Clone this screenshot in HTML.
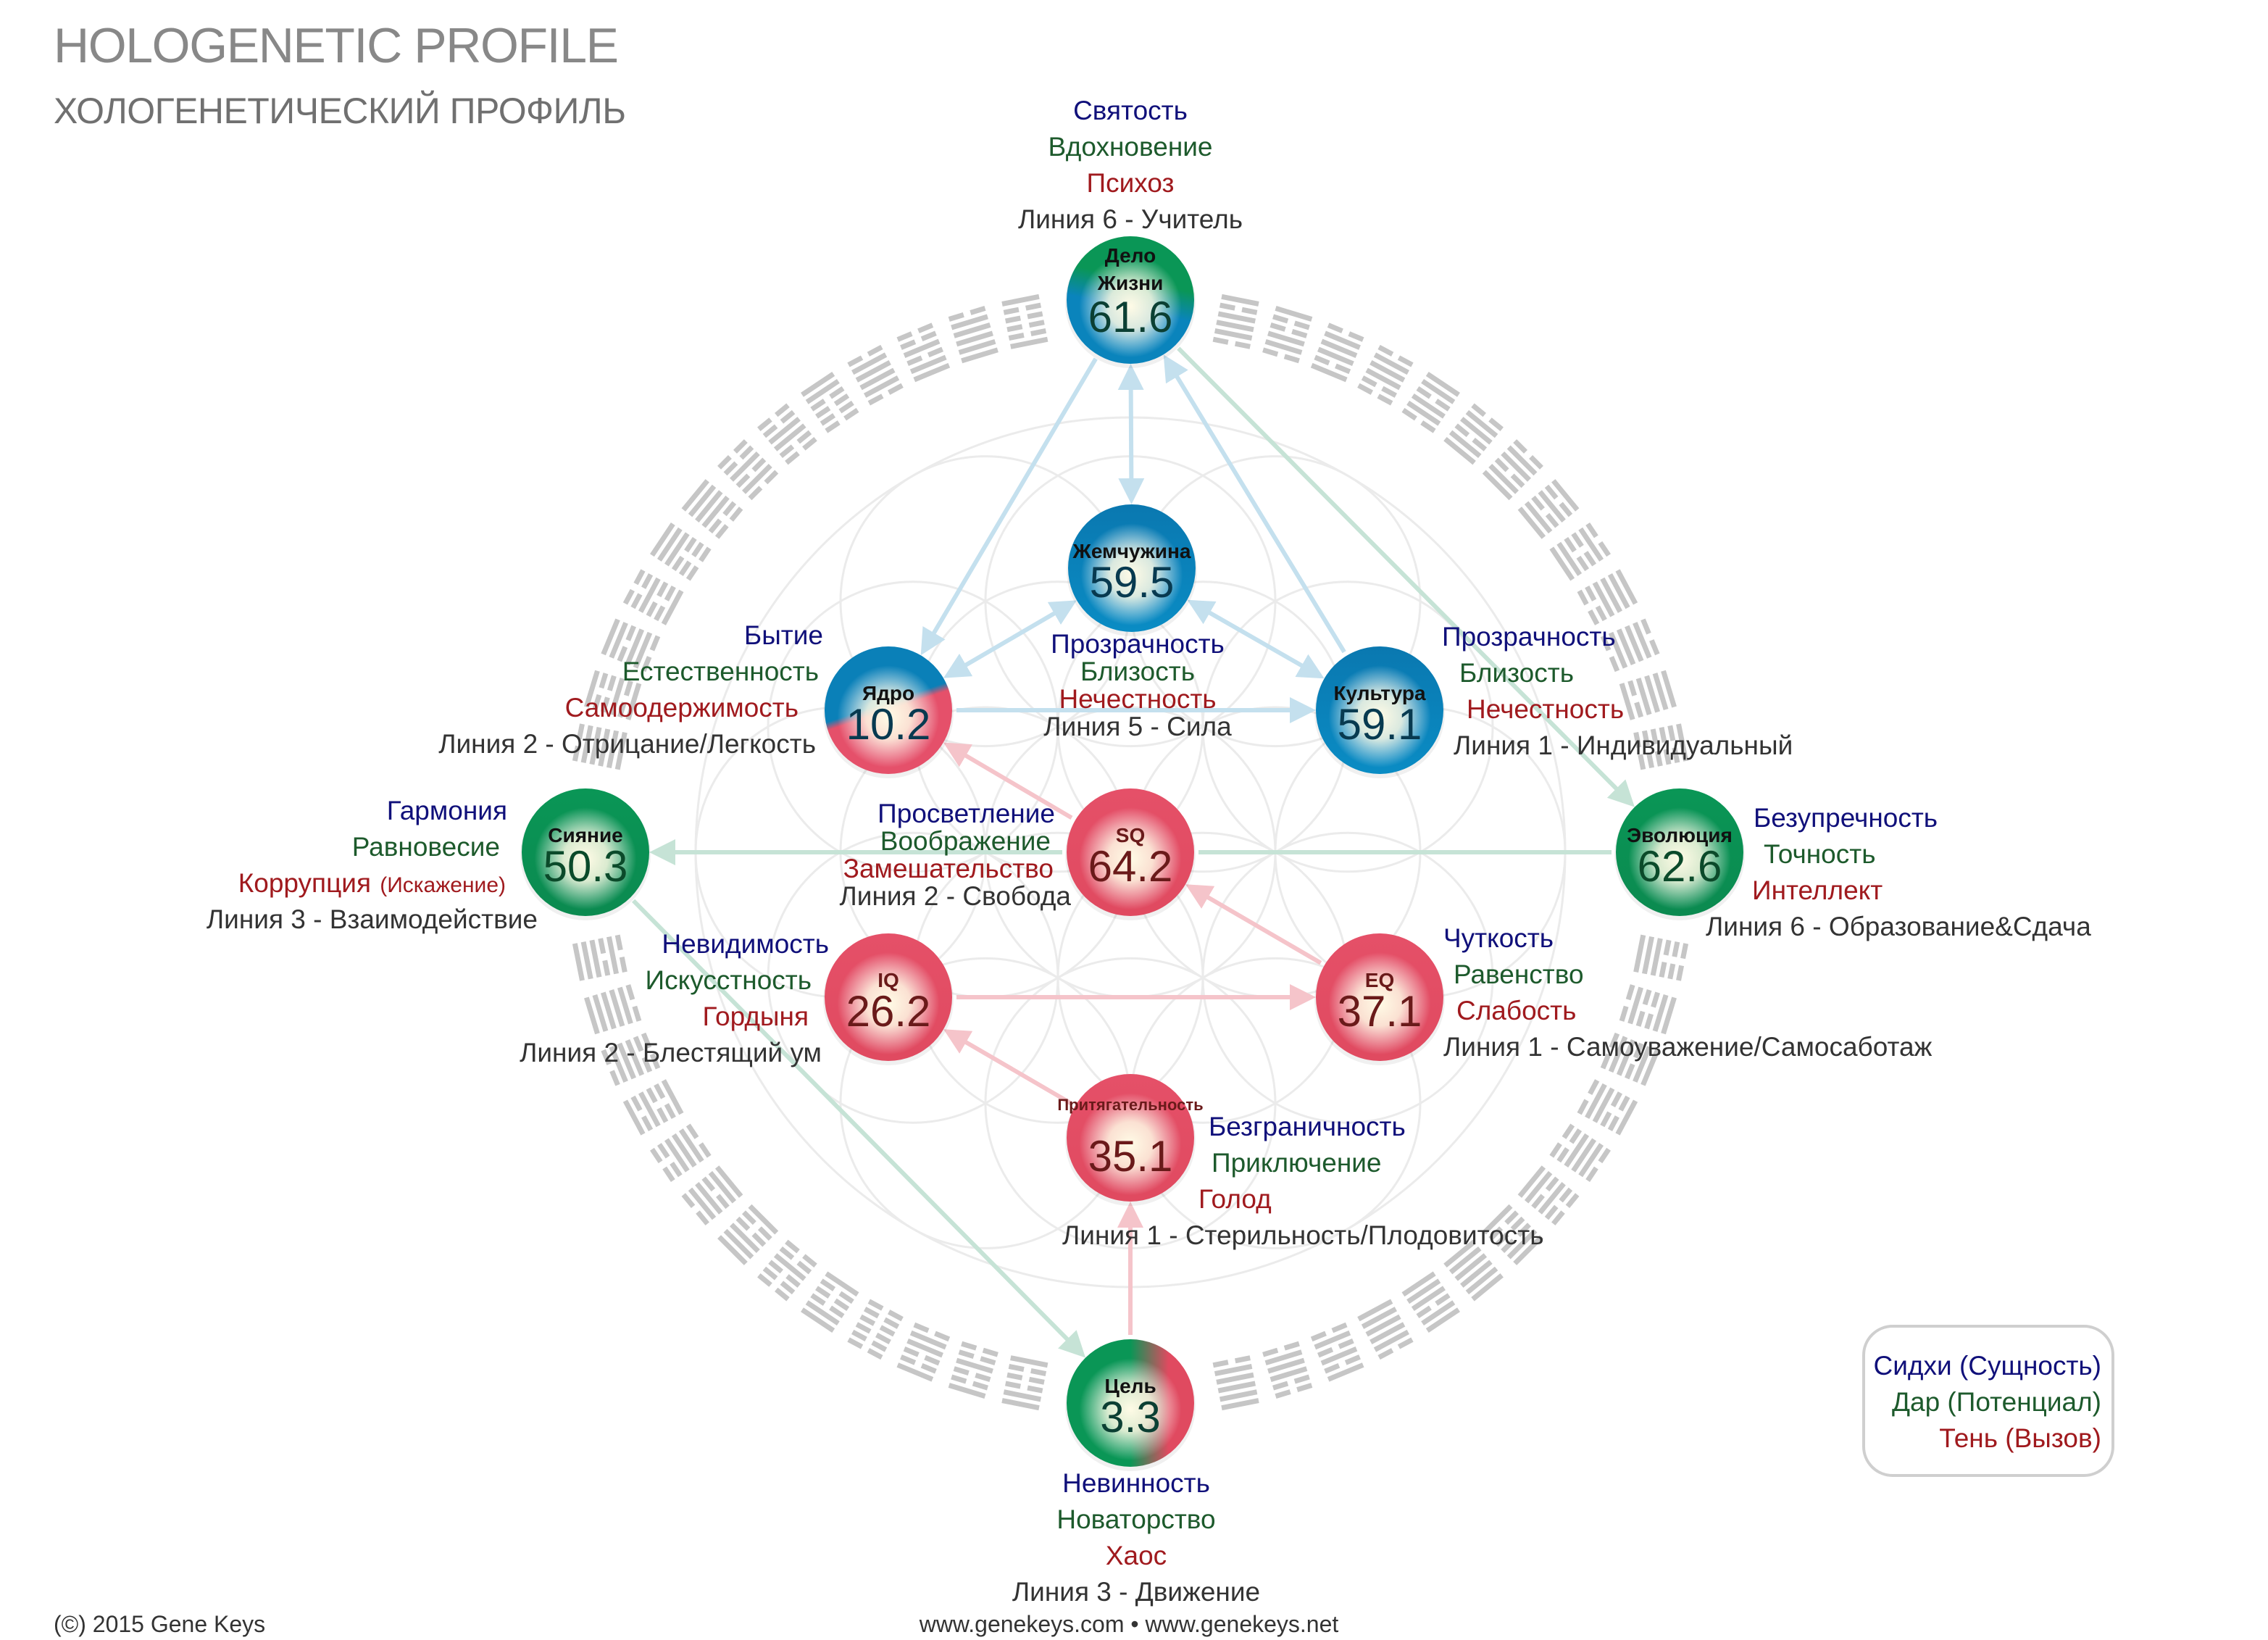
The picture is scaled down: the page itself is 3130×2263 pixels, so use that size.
<!DOCTYPE html>
<html><head><meta charset="utf-8">
<style>
html,body{margin:0;padding:0;background:#fff}
svg{display:block}
text{font-family:"Liberation Sans Narrow","Liberation Sans","DejaVu Sans Condensed",sans-serif}
</style></head><body>
<svg id="s" width="3130" height="2263" viewBox="0 0 3130 2263" xmlns="http://www.w3.org/2000/svg">
<defs>
<radialGradient id="hl" cx="0.5" cy="0.55" r="0.5">
<stop offset="0" stop-color="#fffbe6" stop-opacity="1"/>
<stop offset="0.35" stop-color="#fffbe6" stop-opacity="0.85"/>
<stop offset="0.8" stop-color="#fff" stop-opacity="0"/>
</radialGradient>
<linearGradient id="gB" x1="0" y1="0" x2="0" y2="1"><stop offset="0" stop-color="#0a78b0"/><stop offset="1" stop-color="#0a8cc4"/></linearGradient>
<linearGradient id="gG" x1="0" y1="0" x2="0" y2="1"><stop offset="0" stop-color="#0a9656"/><stop offset="1" stop-color="#0b8a50"/></linearGradient>
<linearGradient id="gR" x1="0" y1="0" x2="0" y2="1"><stop offset="0" stop-color="#e55068"/><stop offset="1" stop-color="#e04a60"/></linearGradient>
<linearGradient id="gBR" x1="0.3" y1="0.2" x2="0.5" y2="0.8"><stop offset="0.45" stop-color="#0a80b8"/><stop offset="0.55" stop-color="#e5506a"/></linearGradient>
<linearGradient id="gGB" x1="0.5" y1="0" x2="0.3" y2="0.9"><stop offset="0.35" stop-color="#0a9656"/><stop offset="0.6" stop-color="#0a84bc"/></linearGradient>
<linearGradient id="gGR" x1="0" y1="0" x2="1" y2="0"><stop offset="0.5" stop-color="#0a9656"/><stop offset="0.8" stop-color="#e04a60"/></linearGradient>
<marker id="aB" markerWidth="6" markerHeight="6" refX="5" refY="3" orient="auto" markerUnits="strokeWidth"><path d="M0,0 L6,3 L0,6 z" fill="#c4e0ee"/></marker>
<marker id="aBs" markerWidth="6" markerHeight="6" refX="1" refY="3" orient="auto" markerUnits="strokeWidth"><path d="M6,0 L0,3 L6,6 z" fill="#c4e0ee"/></marker>
<marker id="aG" markerWidth="6" markerHeight="6" refX="5" refY="3" orient="auto" markerUnits="strokeWidth"><path d="M0,0 L6,3 L0,6 z" fill="#c6e3d6"/></marker>
<marker id="aR" markerWidth="6" markerHeight="6" refX="5" refY="3" orient="auto" markerUnits="strokeWidth"><path d="M0,0 L6,3 L0,6 z" fill="#f5c4ca"/></marker>
</defs>
<g id="flower" fill="none" stroke="#ebebeb" stroke-width="3"></g>
<g id="hex" fill="#c6c6c6"></g>
<g id="lines" fill="none" stroke-width="6"></g>
<g id="nodes"></g>
<g id="labels" font-size="37"></g>
<text x="74" y="86" font-size="68" fill="#888" style="font-family:'Liberation Sans',sans-serif" textLength="780">HOLOGENETIC PROFILE</text>
<text x="74" y="170" font-size="50" fill="#707070" style="font-family:'Liberation Sans',sans-serif" textLength="790">ХОЛОГЕНЕТИЧЕСКИЙ ПРОФИЛЬ</text>
<text x="74" y="2252" font-size="32" fill="#333" style="font-family:'Liberation Sans',sans-serif">(©) 2015 Gene Keys</text>
<text x="1558" y="2252" font-size="32" fill="#333" text-anchor="middle" style="font-family:'Liberation Sans',sans-serif">www.genekeys.com • www.genekeys.net</text>
<rect x="2572" y="1830" width="344" height="206" rx="40" fill="#fff" stroke="#cfcfcf" stroke-width="4"/>
<g font-size="37" text-anchor="end">
<text x="2900" y="1897" fill="#10107a">Сидхи (Сущность)</text>
<text x="2900" y="1947" fill="#1d5a2c">Дар (Потенциал)</text>
<text x="2900" y="1997" fill="#a01a1e">Тень (Вызов)</text>
</g>
</svg>
<script>
const NS="http://www.w3.org/2000/svg";
function el(t,a,p){const e=document.createElementNS(NS,t);for(const k in a)e.setAttribute(k,a[k]);document.getElementById(p).appendChild(e);return e;}
const CX=1560,CY=1176;
const R=200;
for(let i=-4;i<=4;i++)for(let j=-4;j<=4;j++){
 const x=CX+R*(i+j/2), y=CY+R*j*Math.sqrt(3)/2;
 const d=Math.hypot(x-CX,y-CY);
 if(d<=2*R+1) el('circle',{cx:x,cy:y,r:R},'flower');
}
el('circle',{cx:CX,cy:CY,r:3*R},'flower');
let seed=7;function rnd(){seed=(seed*9301+49297)%233280;return seed/233280;}
const N=64;
for(let k=0;k<N;k++){
 const ang=k/N*360;
 const skip=[0,90,180,270];
 let bad=false;for(const s of skip){let d=Math.abs(((ang-s+540)%360)-180);if(d<8)bad=true;}
 if(bad) continue;
 const g=el('g',{transform:`translate(${CX},${CY}) rotate(${ang}) translate(0,-746)`},'hex');
 for(let l=0;l<6;l++){
  const y=-34+l*12;
  const r1=document.createElementNS(NS,'rect');
  if(rnd()<0.5){r1.setAttribute('x',-26);r1.setAttribute('y',y);r1.setAttribute('width',52);r1.setAttribute('height',7);g.appendChild(r1);}
  else{r1.setAttribute('x',-26);r1.setAttribute('y',y);r1.setAttribute('width',21);r1.setAttribute('height',7);g.appendChild(r1);
   const r2=document.createElementNS(NS,'rect');r2.setAttribute('x',5);r2.setAttribute('y',y);r2.setAttribute('width',21);r2.setAttribute('height',7);g.appendChild(r2);}
 }
}
const nodes={
 delo:[1560,414,'gGB','Дело|Жизни','61.6','#0b3f33'],
 pearl:[1562,784,'gB','Жемчужина','59.5','#083a50'],
 core:[1226,980,'gBR','Ядро','10.2','#083a50'],
 cult:[1904,980,'gB','Культура','59.1','#083a50'],
 rad:[808,1176,'gG','Сияние','50.3','#0b4a2a'],
 sq:[1560,1176,'gR','SQ','64.2','#6a1a1a'],
 evo:[2318,1176,'gG','Эволюция','62.6','#0b4a2a'],
 iq:[1226,1376,'gR','IQ','26.2','#6a1a1a'],
 eq:[1904,1376,'gR','EQ','37.1','#6a1a1a'],
 att:[1560,1570,'gR','Притягательность','35.1','#6a1a1a'],
 goal:[1560,1936,'gGR','Цель','3.3','#0b3f33']
};
const RN=88;
function line(a,b,col,mk,ms){
 const A=nodes[a],B=nodes[b];const dx=B[0]-A[0],dy=B[1]-A[1],d=Math.hypot(dx,dy);
 const ux=dx/d,uy=dy/d;
 const at={x1:A[0]+ux*(RN+6),y1:A[1]+uy*(RN+6),x2:B[0]-ux*(RN+6),y2:B[1]-uy*(RN+6),stroke:col};
 if(mk)at['marker-end']=`url(#${mk})`;if(ms)at['marker-start']=`url(#${ms})`;
 el('line',at,'lines');
}
const cb='#c4e0ee',cg='#c6e3d6',cr='#f5c4ca';
line('core','pearl',cb,'aB','aBs');
line('pearl','cult',cb,'aB','aBs');
line('delo','pearl',cb,'aB','aBs');
line('delo','core',cb,'aB');
line('cult','delo',cb,'aB');
line('core','cult',cb,'aB');
line('delo','evo',cg,'aG');
line('sq','rad',cg,'aG');
line('evo','sq',cg);
line('rad','goal',cg,'aG');
line('sq','core',cr,'aR');
line('eq','sq',cr,'aR');
line('iq','eq',cr,'aR');
line('att','iq',cr,'aR');
line('goal','att',cr,'aR');
for(const k in nodes){const n=nodes[k];
 el('circle',{cx:n[0],cy:n[1]+4,r:RN+2,fill:'#000',opacity:0.06},'nodes');
 el('circle',{cx:n[0],cy:n[1],r:RN,fill:`url(#${n[2]})`},'nodes');
 el('circle',{cx:n[0],cy:n[1],r:RN,fill:'url(#hl)'},'nodes');
 const nm=n[3].split('|');
 const small=nm[0].length>10;
 if(nm.length==2){
  let t=el('text',{x:n[0],y:n[1]-52,'font-size':28,'font-weight':'bold','text-anchor':'middle',fill:'#111'},'nodes');t.textContent=nm[0];
  t=el('text',{x:n[0],y:n[1]-14,'font-size':28,'font-weight':'bold','text-anchor':'middle',fill:'#111'},'nodes');t.textContent=nm[1];
  t=el('text',{x:n[0],y:n[1]+44,'font-size':60,'text-anchor':'middle',fill:n[5],style:"font-family:'Liberation Sans',sans-serif"},'nodes');t.textContent=n[4];
 } else {
  let t=el('text',{x:n[0],y:n[1]-(k=='att'?38:14),'font-size':small?22:28,'font-weight':'bold','text-anchor':'middle',fill:k=='att'||n[2]=='gR'?'#6a1a1a':'#111'},'nodes');t.textContent=nm[0];
  t=el('text',{x:n[0],y:n[1]+(k=='att'?46:40),'font-size':60,'text-anchor':'middle',fill:n[5],style:"font-family:'Liberation Sans',sans-serif"},'nodes');t.textContent=n[4];
 }
}
const B='#10107a',G='#1d5a2c',Rd='#a01a1e',K='#333';
function lab(x,ys,anchor,items,dy){
 items.forEach((it,i)=>{const t=el('text',{x:it[2]!==undefined?it[2]:x,y:ys+i*dy,'text-anchor':anchor,fill:it[1]},'labels');t.textContent=it[0];});
}
lab(1560,165,'middle',[['Святость',B],['Вдохновение',G],['Психоз',Rd],['Линия 6 - Учитель',K]],50);
lab(1136,889,'end',[['Бытие',B],['Естественность',G,1130],['Самоодержимость',Rd,1102],['Линия 2 - Отрицание/Легкость',K,1126]],50);
lab(1570,901,'middle',[['Прозрачность',B],['Близость',G],['Нечестность',Rd],['Линия 5 - Сила',K]],38);
lab(1990,891,'start',[['Прозрачность',B],['Близость',G,2014],['Нечестность',Rd,2024],['Линия 1 - Индивидуальный',K,2006]],50);
lab(700,1131,'end',[['Гармония',B],['Равновесие',G,690],['Коррупция',Rd,512],['Линия 3 - Взаимодействие',K,742]],50);
(function(){const t=el('text',{x:698,y:1231,'text-anchor':'end',fill:Rd,'font-size':30},'labels');t.textContent='(Искажение)';})();
lab(1456,1135,'end',[['Просветление',B],['Воображение',G,1450],['Замешательство',Rd,1454],['Линия 2 - Свобода',K,1478]],38);
lab(2420,1141,'start',[['Безупречность',B],['Точность',G,2434],['Интеллект',Rd,2418],['Линия 6 - Образование&Сдача',K,2354]],50);
lab(1144,1315,'end',[['Невидимость',B],['Искусстность',G,1120],['Гордыня',Rd,1116],['Линия 2 - Блестящий ум',K,1134]],50);
lab(1992,1307,'start',[['Чуткость',B],['Равенство',G,2006],['Слабость',Rd,2010],['Линия 1 - Самоуважение/Самосаботаж',K,1992]],50);
lab(1668,1567,'start',[['Безграничность',B],['Приключение',G,1672],['Голод',Rd,1654],['Линия 1 - Стерильность/Плодовитость',K,1466]],50);
lab(1568,2059,'middle',[['Невинность',B],['Новаторство',G],['Хаос',Rd],['Линия 3 - Движение',K]],50);
</script>
</body></html>
